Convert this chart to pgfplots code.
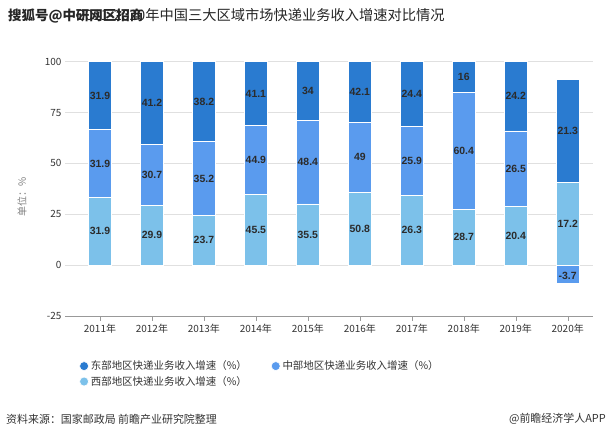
\documentclass[border=0pt]{standalone}
\usepackage{pgfplots}
\pgfplotsset{compat=1.18}
\usepackage{pgfplotstable}
\usepackage{fontspec}
\setmainfont{Noto Sans CJK SC}
\newfontfamily\lblfont{Liberation Sans}
\definecolor{cEast}{HTML}{2A7BD0}
\definecolor{cMid}{HTML}{5A9BEE}
\definecolor{cWest}{HTML}{7CC1EA}
\definecolor{txt}{HTML}{333333}
\definecolor{lbltxt}{HTML}{2B2B2B}
\definecolor{axgray}{HTML}{999999}
\definecolor{gridgray}{HTML}{E0E0E0}

\pgfplotsset{circlegend/.style={legend image code/.code={\fill[##1] (0bp,0bp) circle (4.5bp);}}}

% raw values: west, middle, east
\pgfplotstableread{
x w m e
0 31.9 31.9 31.9
1 29.9 30.7 41.2
2 23.7 35.2 38.2
3 45.5 44.9 41.1
4 35.5 48.4 34
5 50.8 49 42.1
6 26.3 25.9 24.4
7 28.7 60.4 16
8 20.4 26.5 24.2
9 17.2 -3.7 21.3
}\data

\def\tot{(abs(\thisrow{w})+abs(\thisrow{m})+abs(\thisrow{e}))}

\begin{document}
\begin{tikzpicture}[x=1bp,y=1bp]
\path[use as bounding box] (0,0) rectangle (611,437);
\begin{axis}[
  at={(65bp,121bp)}, anchor=south west,
  scale only axis, width=528bp, height=254.3bp,
  xmin=-0.673, xmax=9.487, ymin=-25, ymax=100,
  ytick={-25,0,25,50,75,100},
  xtick={0,...,9},
  xticklabels={2011年,2012年,2013年,2014年,2015年,2016年,2017年,2018年,2019年,2020年},
  axis x line*=bottom, axis y line*=left,
  y axis line style={draw=none},
  x axis line style={-, draw=axgray},
  ymajorgrids, grid style={gridgray, line width=0.6pt},
  xtick style={draw=axgray}, ytick style={draw=none},
  xtick align=outside, major tick length=5bp,
  tick label style={font=\fontsize{10}{12}\selectfont, text=txt},
  /pgf/number format/assume math mode=true,
  ylabel={单位：\%},
  ylabel style={at={(axis description cs:-0.0814,0.468)}, anchor=center, font=\fontsize{10}{12}\selectfont, text=gray},
  legend style={at={(rel axis cs:0.021,-0.16)}, anchor=north west, draw=none, fill=none,
    font=\fontsize{10.5}{13}\selectfont, text=txt, row sep=1bp,
    /tikz/every even column/.append style={column sep=22bp}},
  legend columns=2, legend cell align=left,
]
% east (cumulative top)
\addplot[ybar, bar width=23.3bp, bar shift=0pt, fill=cEast, draw=white, line width=0.6pt, circlegend]
  table[x=x, y expr={100*(\thisrow{w}+max(\thisrow{m},0)+\thisrow{e})/\tot}] {\data};
\addlegendentry{东部地区快递业务收入增速（\%）}
% middle
\addplot[ybar, bar width=23.3bp, bar shift=0pt, fill=cMid, draw=white, line width=0.6pt, circlegend]
  table[x=x, y expr={(\thisrow{m}<0) ? (100*\thisrow{m}/\tot) : (100*(\thisrow{w}+\thisrow{m})/\tot)}] {\data};
\addlegendentry{中部地区快递业务收入增速（\%）}
% west
\addplot[ybar, bar width=23.3bp, bar shift=0pt, fill=cWest, draw=white, line width=0.6pt, circlegend]
  table[x=x, y expr={100*\thisrow{w}/\tot}] {\data};
\addlegendentry{西部地区快递业务收入增速（\%）}

% labels
\pgfplotsset{lbl/.style={draw=none, mark=none, forget plot, nodes near coords,
  point meta=explicit symbolic,
  nodes near coords style={anchor=center, inner sep=0pt, font=\lblfont\bfseries\fontsize{10.5}{12}\selectfont, text=lbltxt}}}
\addplot[lbl] table[x=x, y expr={50*\thisrow{w}/\tot}, meta=w] {\data};
\addplot[lbl] table[x=x, y expr={(\thisrow{m}<0) ? (50*\thisrow{m}/\tot - 0.8) : (100*(\thisrow{w}+0.5*\thisrow{m})/\tot)}, meta=m] {\data};
\addplot[lbl] table[x=x, y expr={100*(\thisrow{w}+max(\thisrow{m},0)+0.5*\thisrow{e})/\tot}, meta=e] {\data};
\end{axis}
\node[anchor=west, inner sep=0pt, font=\fontsize{14.3}{16}\selectfont, text=black!85] at (77,422) {2011-2020年中国三大区域市场快递业务收入增速对比情况};
\node[anchor=west, inner sep=0pt, font=\bfseries\fontsize{13.5}{16}\selectfont, text=black!85] at (8,421) {搜狐号@中研网区招商};
\node[anchor=west, inner sep=0pt, font=\fontsize{11}{13}\selectfont, text=txt] at (6,18) {资料来源：国家邮政局 前瞻产业研究院整理};
\node[anchor=east, inner sep=0pt, font=\fontsize{11}{13}\selectfont, text=txt] at (606,18) {@前瞻经济学人APP};
\end{tikzpicture}
\end{document}
